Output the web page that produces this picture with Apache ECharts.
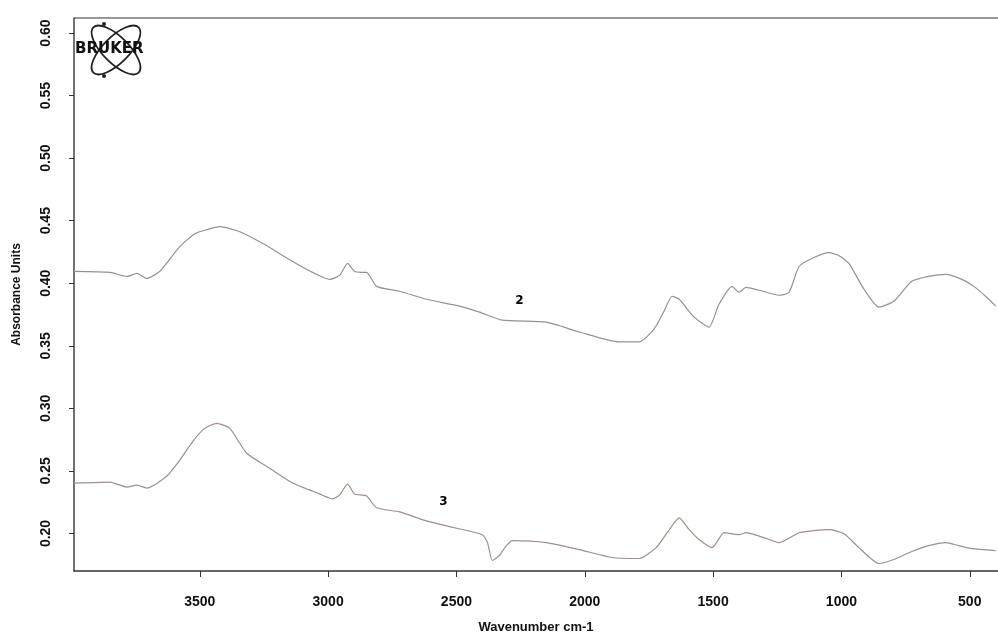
<!DOCTYPE html>
<html>
<head>
<meta charset="utf-8">
<script src="https://cdn.jsdelivr.net/npm/echarts@6/dist/echarts.min.js"></script>
<style>
  html, body { margin: 0; padding: 0; background: #fff; }
  #main { width: 998px; height: 639px; }
</style>
</head>
<body>
<div id="main"></div>
<script>
// wavenumber (cm-1) / absorbance pairs
var wave2 = [3990, 3850, 3784, 3745, 3706, 3656, 3578, 3519, 3473, 3422, 3344, 3247, 3138, 3053, 2994, 2955, 2924, 2897, 2870, 2850, 2811, 2722, 2617, 2488, 2410, 2321, 2150, 2021, 1866, 1788, 1730, 1691, 1660, 1632, 1574, 1516, 1477, 1426, 1399, 1372, 1321, 1243, 1204, 1165, 1107, 1049, 1010, 971, 912, 854, 796, 726, 660, 593, 531, 484, 434, 399];
var abs2 = [0.4095, 0.4087, 0.4055, 0.4079, 0.4039, 0.4095, 0.4293, 0.4396, 0.4428, 0.4452, 0.4412, 0.4309, 0.4174, 0.4079, 0.4031, 0.4063, 0.4158, 0.4095, 0.4087, 0.4087, 0.3975, 0.3936, 0.3872, 0.3817, 0.3769, 0.3705, 0.3689, 0.3610, 0.3531, 0.3531, 0.3634, 0.3777, 0.3896, 0.3872, 0.3729, 0.3650, 0.3832, 0.3975, 0.3928, 0.3967, 0.3944, 0.3904, 0.3928, 0.4134, 0.4206, 0.4245, 0.4221, 0.4158, 0.3952, 0.3809, 0.3856, 0.4015, 0.4055, 0.4071, 0.4031, 0.3975, 0.3888, 0.3817];

var wave3 = [3990, 3850, 3784, 3745, 3706, 3628, 3578, 3527, 3481, 3434, 3383, 3317, 3228, 3138, 3033, 2982, 2955, 2924, 2897, 2850, 2811, 2722, 2617, 2508, 2399, 2379, 2360, 2333, 2305, 2282, 2150, 2021, 1893, 1788, 1722, 1679, 1632, 1593, 1555, 1504, 1457, 1399, 1372, 1302, 1243, 1165, 1107, 1049, 990, 932, 854, 796, 726, 660, 593, 543, 492, 399];
var abs3 = [0.2403, 0.2411, 0.2371, 0.2387, 0.2363, 0.2459, 0.2586, 0.2737, 0.2840, 0.2880, 0.2840, 0.2641, 0.2522, 0.2403, 0.2316, 0.2276, 0.2308, 0.2395, 0.2316, 0.2300, 0.2205, 0.2173, 0.2101, 0.2046, 0.1990, 0.1927, 0.1784, 0.1824, 0.1903, 0.1943, 0.1927, 0.1871, 0.1808, 0.1800, 0.1887, 0.2006, 0.2125, 0.2030, 0.1951, 0.1887, 0.2006, 0.1990, 0.2006, 0.1967, 0.1927, 0.2006, 0.2022, 0.2030, 0.1998, 0.1887, 0.1760, 0.1792, 0.1856, 0.1903, 0.1927, 0.1903, 0.1879, 0.1863];

// tick positions
var xTicks = [500, 1000, 1500, 2000, 2500, 3000, 3500];
var yTicks = [0.20, 0.25, 0.30, 0.35, 0.40, 0.45, 0.50, 0.55, 0.60];

// spectrum labels (position in data units)
var labels = [
  { name: '2', coord: [2255, 0.3856] },
  { name: '3', coord: [2551, 0.2253] }
];

function pairs(w, a) {
  var out = [];
  for (var i = 0; i < w.length; i++) out.push([w[i], a[i]]);
  return out;
}

var myChart = echarts.init(document.getElementById('main'));

var axisFont = { fontFamily: 'Liberation Sans', fontWeight: 'bold', fontSize: 14, color: '#111' };

option = {
  backgroundColor: '#fff',
  animation: false,
  grid: { left: 74, right: 0, top: 18, bottom: 66 },
  xAxis: {
    type: 'value',
    inverse: true,
    min: 390,
    max: 3990,
    name: 'Wavenumber cm-1',
    nameLocation: 'middle',
    nameGap: 50,
    nameTextStyle: { fontFamily: 'Liberation Sans', fontWeight: 'bold', fontSize: 13, color: '#111' },
    axisLine: { show: true, lineStyle: { color: '#333', width: 1.5 } },
    axisTick: { show: true, length: 6, customValues: xTicks, lineStyle: { color: '#333' } },
    axisLabel: Object.assign({ margin: 24, customValues: xTicks,
      formatter: function (v) { return String(v); } }, axisFont),
    splitLine: { show: false }
  },
  yAxis: {
    type: 'value',
    min: 0.17,
    max: 0.612,
    name: 'Absorbance Units',
    nameLocation: 'middle',
    nameGap: 51,
    nameTextStyle: { fontFamily: 'Liberation Sans', fontWeight: 'bold', fontSize: 12, color: '#111' },
    axisLine: { show: true, lineStyle: { color: '#444', width: 1.5 } },
    axisTick: { show: true, length: 5, customValues: yTicks, lineStyle: { color: '#333' } },
    axisLabel: Object.assign({ rotate: 90, margin: 21, customValues: yTicks,
      formatter: function (v) { return v.toFixed(2); } }, axisFont),
    splitLine: { show: false }
  },
  graphic: [
    { type: 'line', shape: { x1: 74, y1: 18, x2: 998, y2: 18 }, style: { stroke: '#777', lineWidth: 1.5 } },
    { type: 'ellipse', shape: { cx: 116, cy: 50, rx: 32, ry: 13 }, rotation: Math.PI / 4, originX: 116, originY: 50,
      style: { fill: 'none', stroke: '#222', lineWidth: 1.8 } },
    { type: 'ellipse', shape: { cx: 116, cy: 50, rx: 32, ry: 13 }, rotation: -Math.PI / 4, originX: 116, originY: 50,
      style: { fill: 'none', stroke: '#222', lineWidth: 1.8 } },
    { type: 'circle', shape: { cx: 104, cy: 24, r: 2 }, style: { fill: '#222' } },
    { type: 'circle', shape: { cx: 104, cy: 76, r: 2 }, style: { fill: '#222' } },
    { type: 'text', x: 75, y: 42, style: { text: 'BRUKER', fontFamily: 'DejaVu Sans', fontWeight: 'bold', fontSize: 15, fill: '#111' } }
  ],
  series: [
    {
      name: '2',
      type: 'line',
      data: pairs(wave2, abs2),
      showSymbol: false,
      smooth: 0.2,
      lineStyle: { color: '#939393', width: 1.2 },
      markPoint: {
        symbol: 'rect', symbolSize: 0,
        label: { show: true, formatter: '{b}', fontFamily: 'DejaVu Sans', fontWeight: 'bold', fontSize: 12, color: '#000' },
        data: [labels[0]]
      }
    },
    {
      name: '3',
      type: 'line',
      data: pairs(wave3, abs3),
      showSymbol: false,
      smooth: 0.2,
      lineStyle: { color: '#9e9088', width: 1.2 },
      markPoint: {
        symbol: 'rect', symbolSize: 0,
        label: { show: true, formatter: '{b}', fontFamily: 'DejaVu Sans', fontWeight: 'bold', fontSize: 12, color: '#000' },
        data: [labels[1]]
      }
    }
  ]
};

myChart.setOption(option);

window.addEventListener('resize', function () {
  myChart.resize();
});
</script>
</body>
</html>
